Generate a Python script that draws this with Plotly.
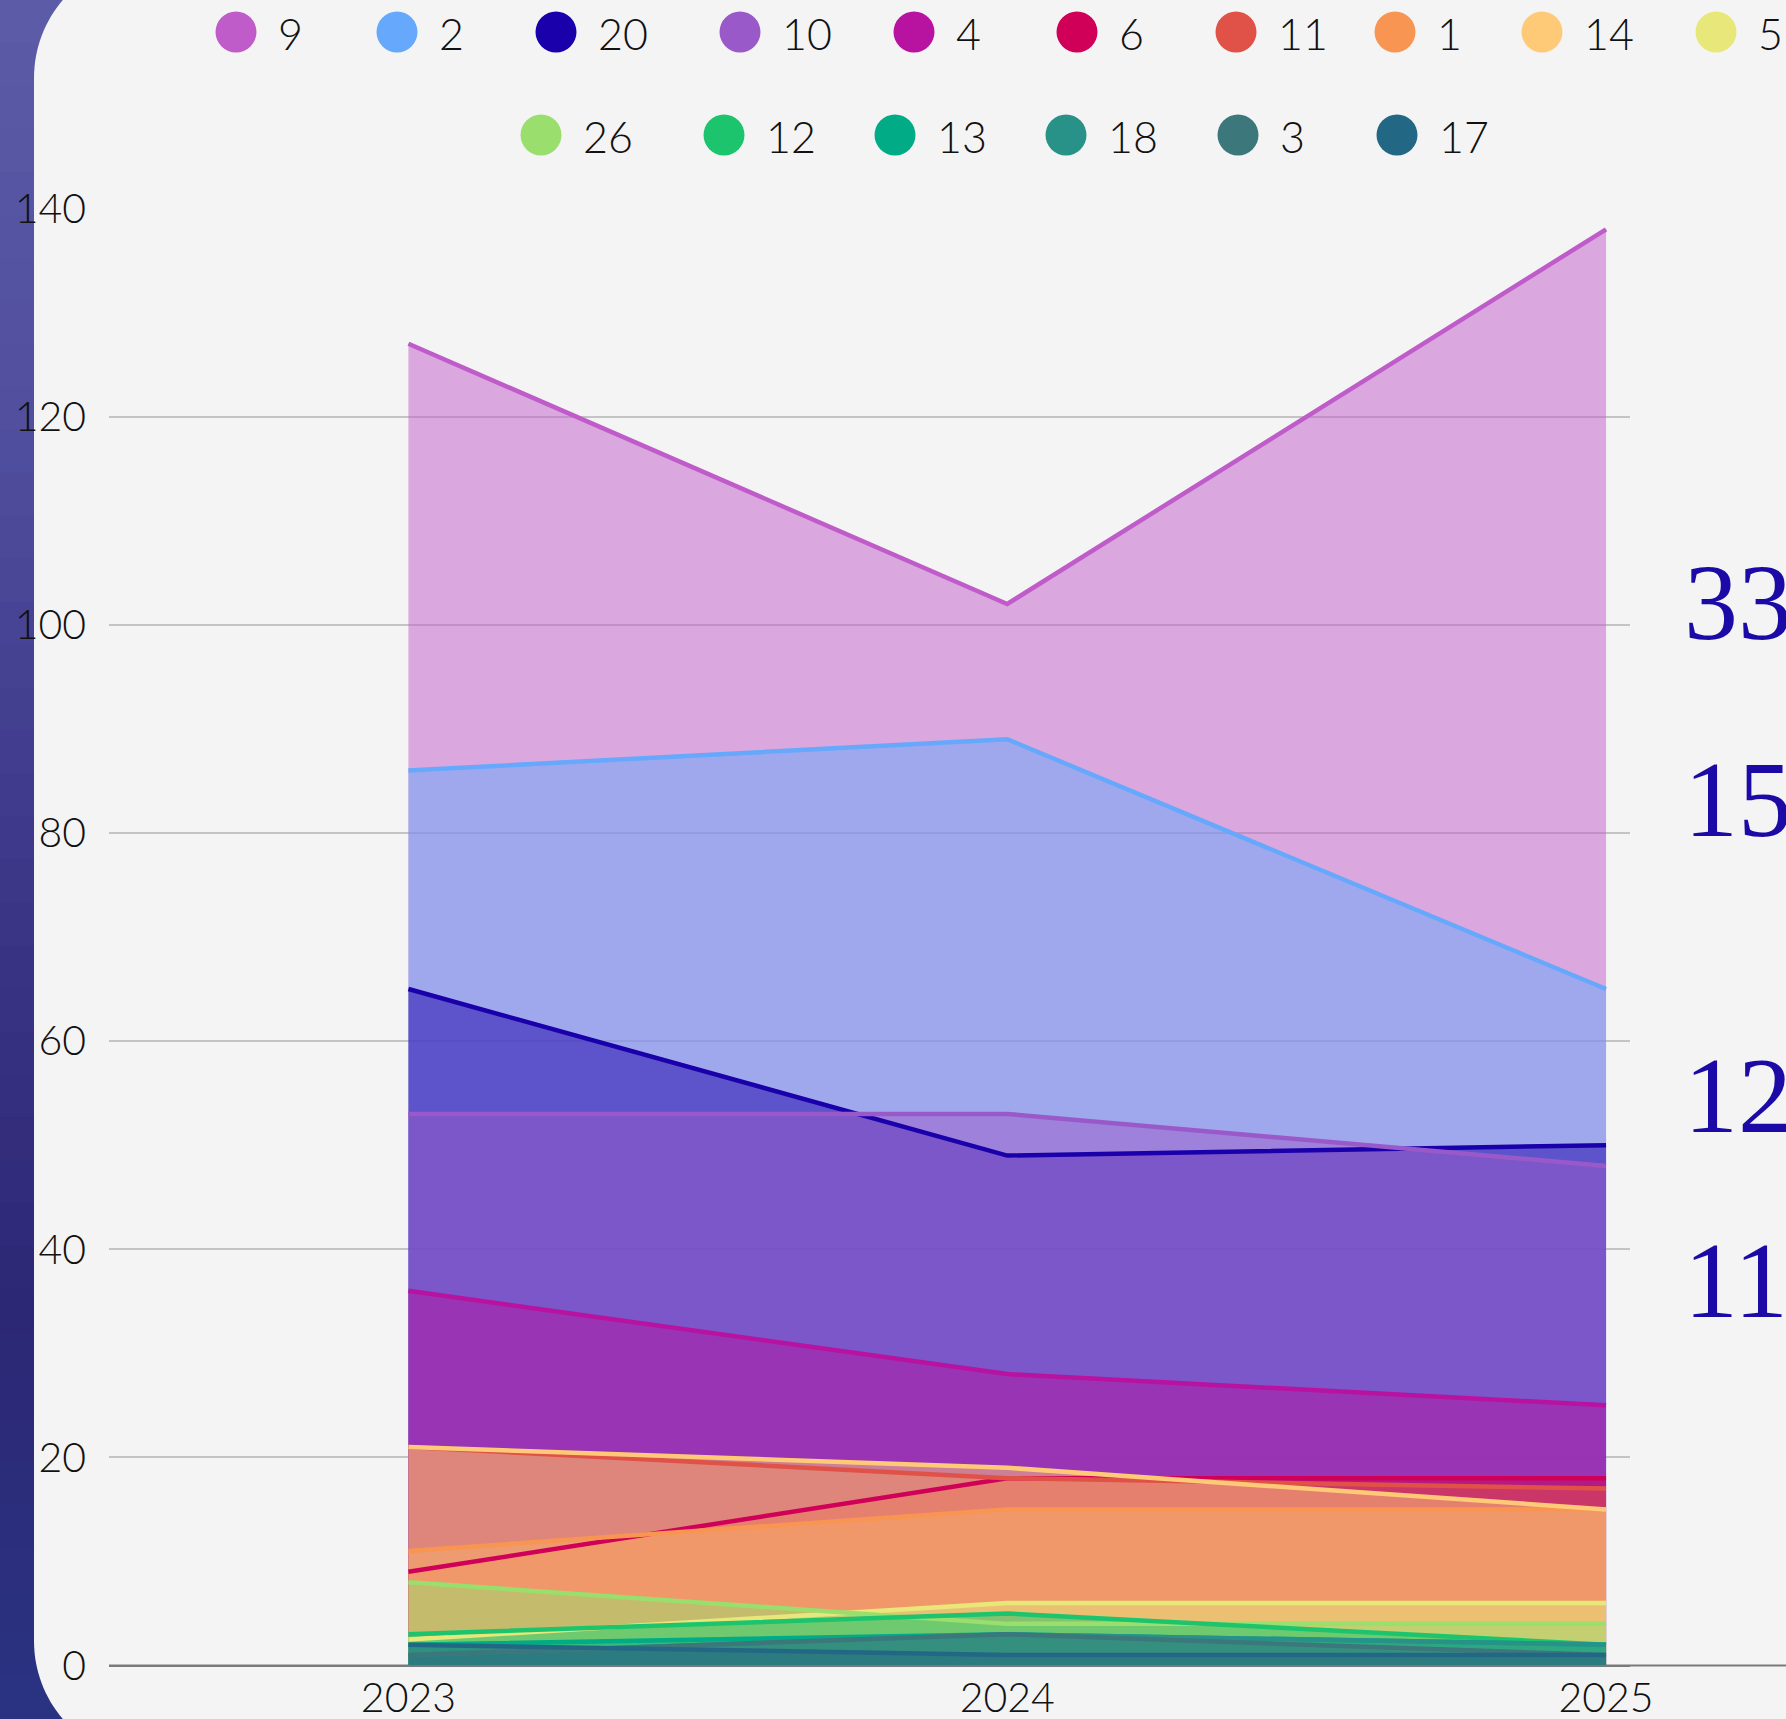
import plotly.graph_objects as go

# data
years = [2023, 2024, 2025]
year_labels = ['2023', '2024', '2025']
y_ticks = [0, 20, 40, 60, 80, 100, 120, 140]

series_names = ['9', '2', '20', '10', '4', '6', '11', '1', '14', '5',
                '26', '12', '13', '18', '3', '17']
series_colors = ['#bf5cc9', '#66a8fb', '#1a00aa', '#9a59c9', '#b812a0', '#d00058',
                 '#e05248', '#f99553', '#ffca78', '#e8e87a', '#9ade6e', '#1bc46d',
                 '#00ab86', '#289289', '#3b777b', '#226884']

s9 = [127, 102, 138]
s2 = [86, 89, 65]
s20 = [65, 49, 50]
s10 = [53, 53, 48]
s4 = [36, 28, 25]
s6 = [9, 18, 18]
s11 = [21, 18, 17]
s1 = [11, 15, 15]
s14 = [21, 19, 15]
s5 = [2.5, 6, 6]
s26 = [8, 4, 4]
s12 = [3, 5, 2]
s13 = [2, 3, 2]
s18 = [1, 3, 2]
s3 = [1, 3, 1]
s17 = [2, 1, 1]
series_values = [s9, s2, s20, s10, s4, s6, s11, s1, s14, s5,
                 s26, s12, s13, s18, s3, s17]

side_values = ['33,', '15,9', '12,2', '11,7']

# page geometry (pixels)
W, H = 1786, 1719


def px(x):
    return x / W


def py(y):
    return 1 - y / H


def with_alpha(hex_color, a):
    h = hex_color.lstrip('#')
    return 'rgba(%d,%d,%d,%s)' % (int(h[0:2], 16), int(h[2:4], 16), int(h[4:6], 16), a)


# legend rows: marker centres in pixels
legend_row1_x = [236, 397, 556, 740, 914, 1077, 1236, 1395, 1542, 1716]
legend_row2_x = [541, 724, 895, 1066, 1238, 1397]
legend_row_y = [32, 135]

side_y = [598, 795, 1091, 1276]

fig = go.Figure()

# areas first, lines on top of every area
for name, color, vals in zip(series_names, series_colors, series_values):
    fig.add_trace(go.Scatter(x=years, y=vals, name=name, mode='none',
                             fill='tozeroy', fillcolor=with_alpha(color, 0.5),
                             hoverinfo='skip'))
for name, color, vals in zip(series_names, series_colors, series_values):
    fig.add_trace(go.Scatter(x=years, y=vals, name=name, mode='lines',
                             line=dict(color=color, width=4.5),
                             hoverinfo='x+y+name'))

shapes = []

# left strip, dark blue with a soft vertical gradient
strip_stops = [(0, (92, 92, 168)), (450, (80, 78, 158)), (900, (60, 54, 135)),
               (1300, (45, 40, 118)), (1719, (42, 52, 130))]
n_bands = 40
for i in range(n_bands):
    y0 = H * i / n_bands
    y1 = H * (i + 1) / n_bands
    ym = (y0 + y1) / 2
    for (a, ca), (b, cb) in zip(strip_stops[:-1], strip_stops[1:]):
        if a <= ym <= b:
            t = (ym - a) / (b - a)
            c = tuple(int(ca[k] + (cb[k] - ca[k]) * t) for k in range(3))
            break
    shapes.append(dict(type='rect', xref='paper', yref='paper', layer='below',
                       x0=px(0), x1=px(200), y0=py(y1 + 1), y1=py(y0),
                       fillcolor='rgb(%d,%d,%d)' % c, line=dict(width=0)))

# light panel with rounded left corners
R, k = 120, 0.5523
xl, yt, yb, xr = 34, -42, 1761, 1900
pts = [
    ('M', [(xl + R, yt)]),
    ('L', [(xr, yt)]),
    ('L', [(xr, yb)]),
    ('L', [(xl + R, yb)]),
    ('C', [(xl + R - k * R, yb), (xl, yb - R + k * R), (xl, yb - R)]),
    ('L', [(xl, yt + R)]),
    ('C', [(xl, yt + R - k * R), (xl + R - k * R, yt), (xl + R, yt)]),
]
path = ''
for cmd, ps in pts:
    path += cmd + ' ' + ' '.join('%.5f,%.5f' % (px(a), py(b)) for a, b in ps) + ' '
path += 'Z'
shapes.append(dict(type='path', xref='paper', yref='paper', layer='below',
                   path=path, fillcolor='#f4f4f4', line=dict(width=0)))

# axis line running on to the right edge
shapes.append(dict(type='line', xref='paper', yref='paper', layer='below',
                   x0=px(109), x1=px(W), y0=py(1665.5), y1=py(1665.5),
                   line=dict(color='#7a7a7a', width=2)))

annotations = []

# legend drawn by hand (big round markers)
legend_pos = [(x, legend_row_y[0]) for x in legend_row1_x] + \
             [(x, legend_row_y[1]) for x in legend_row2_x]
r = 20.5
for (cx, cy), name, color in zip(legend_pos, series_names, series_colors):
    shapes.append(dict(type='circle', xref='paper', yref='paper',
                       x0=px(cx - r), x1=px(cx + r), y0=py(cy + r), y1=py(cy - r),
                       fillcolor=color, line=dict(width=0)))
    annotations.append(dict(x=px(cx + 40), y=py(cy + 1), xref='paper', yref='paper',
                            text=name, showarrow=False, xanchor='left', yanchor='middle',
                            font=dict(family='Lato', size=43, weight=300, color='#111111')))

# large figures cut by the right edge
for txt, yy in zip(side_values, side_y):
    annotations.append(dict(x=px(1682), y=py(yy + 4), xref='paper', yref='paper',
                            text=txt, showarrow=False, xanchor='left', yanchor='middle',
                            font=dict(family='Liberation Serif', size=108, color='#1c0aa6')))

fig.update_layout(
    width=W, height=H,
    margin=dict(l=0, r=0, t=0, b=0),
    paper_bgcolor='#3d3a8a',
    plot_bgcolor='rgba(0,0,0,0)',
    showlegend=False,
    font=dict(family='Lato', color='#111111'),
    shapes=shapes,
    annotations=annotations,
    xaxis=dict(domain=[px(109), px(1630)], range=[2022.5, 2025.04],
               tickvals=years, ticktext=year_labels,
               tickfont=dict(size=41, weight=300),
               showgrid=False, zeroline=False, showline=False, ticks='',
               ticklabelstandoff=4, automargin=False),
    yaxis=dict(domain=[py(1665.5), py(208.5)], range=[0, 140],
               tickvals=y_ticks, tickfont=dict(size=41, weight=300),
               showgrid=True, gridcolor='#c4c4c4', gridwidth=1.5,
               zeroline=True, zerolinecolor='#7a7a7a', zerolinewidth=2,
               showline=False, ticks='', ticklabelstandoff=22, automargin=False),
)

fig.write_html("out.html", config={'displayModeBar': False},
               post_script="document.body.style.margin='0';"
                           "document.body.style.overflow='hidden';")
